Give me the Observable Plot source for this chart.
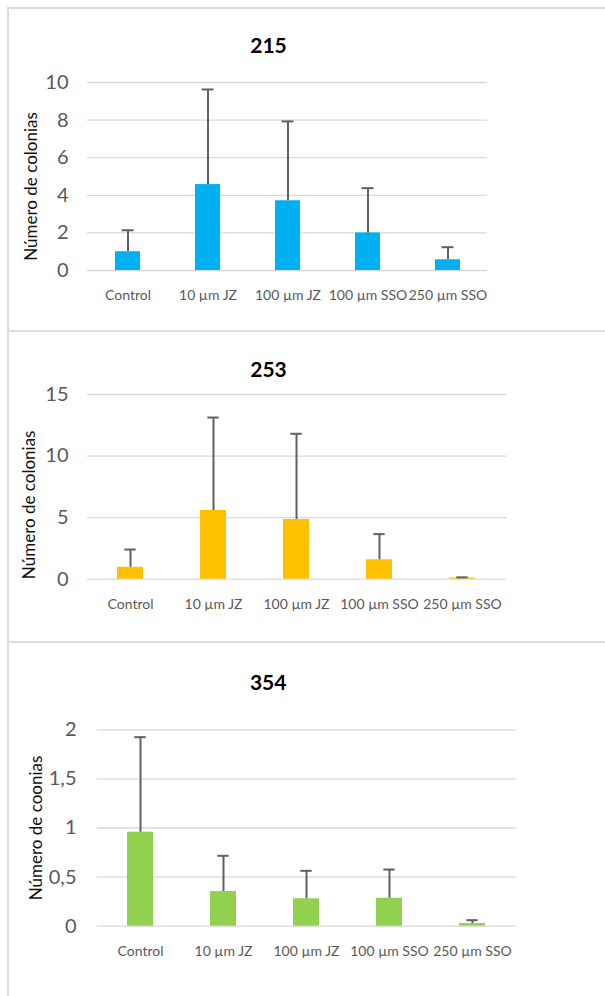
<!DOCTYPE html>
<html>
<head>
<meta charset="utf-8">
<script src="https://cdn.jsdelivr.net/npm/d3@7"></script>
<script src="https://cdn.jsdelivr.net/npm/@observablehq/plot@0.6"></script>
<style>
  html, body { margin: 0; padding: 0; background: #fff; width: 605px; height: 996px; overflow: hidden; }
  .box { position: absolute; box-sizing: border-box; border: 2px solid #dcdcdc; }
  .chart { position: absolute; left: 0; }
</style>
</head>
<body>
<div class="box" style="left:7px;top:7px;width:700px;height:325px"></div>
<div class="box" style="left:7px;top:330px;width:700px;height:313px"></div>
<div class="box" style="left:7px;top:641px;width:700px;height:400px"></div>
<div id="p1" class="chart" style="top:8px"></div>
<div id="p2" class="chart" style="top:332px"></div>
<div id="p3" class="chart" style="top:643px"></div>
<script>
// ---- data ----
const categories = ["Control", "10 µm JZ", "100 µm JZ", "100 µm SSO", "250 µm SSO"];

const titles = ["215", "253", "354"];
const yLabels = ["Número de colonias", "Número de colonias", "Número de coonias"];

const means215 = [1.0, 4.57, 3.71, 2.0, 0.57];
const sd215    = [1.14, 5.06, 4.22, 2.38, 0.67];

const means253 = [0.97, 5.58, 4.85, 1.58, 0.1];
const sd253    = [1.44, 7.55, 6.96, 2.08, 0.05];

const means354 = [0.957, 0.353, 0.279, 0.285, 0.027];
const sd354    = [0.968, 0.364, 0.285, 0.292, 0.034];

const yTicks215 = [0, 2, 4, 6, 8, 10];
const yTicks253 = [0, 5, 10, 15];
const yTicks354 = [0, 0.5, 1, 1.5, 2];

const colors = ["#00B0F0", "#FFC000", "#92D050"];

// ---- drawing ----
function panel(el, o) {
  const data = categories.map((c, i) => ({cat: c, mean: o.means[i], hi: o.means[i] + o.sds[i]}));
  const fmt = d => String(d).replace(".", ",");
  const chart = Plot.plot({
    width: 605,
    height: o.height,
    marginTop: o.mt, marginBottom: o.mb, marginLeft: o.ml, marginRight: o.mr,
    style: {background: "transparent", fontFamily: "Lato, 'Open Sans', sans-serif", overflow: "visible"},
    x: {domain: categories, paddingInner: o.pi, paddingOuter: o.pi / 2, align: 0.5},
    y: {domain: [0, o.ticks[o.ticks.length - 1]]},
    marks: [
      Plot.ruleY(o.ticks, {stroke: "#d9d9d9", strokeWidth: 1.3}),
      Plot.barY(data, {x: "cat", y: "mean", fill: o.color}),
      Plot.ruleX(data, {x: "cat", y1: "mean", y2: "hi", stroke: "#606060", strokeWidth: 2}),
      Plot.tickY(data, {x: "cat", y: "hi", stroke: "#606060", strokeWidth: 2, insetLeft: o.cap, insetRight: o.cap}),
      Plot.axisX({tickSize: 0, tickPadding: 20, fontSize: 14, fill: "#595959", label: null}),
      Plot.axisY({ticks: o.ticks, tickFormat: fmt, tickSize: 0, tickPadding: o.ytp, fontSize: 20, fill: "#595959", label: null}),
      Plot.text([o.title], {frameAnchor: "top", text: d => d, dx: o.tdx, dy: o.tdy, lineAnchor: "middle",
        fontSize: 21, fontWeight: "bold", fill: "#000"}),
      Plot.text([o.ylabel], {frameAnchor: "left", text: d => d, rotate: -90, dx: o.ldx, dy: o.ldy,
        textAnchor: "middle", lineAnchor: "middle", fontSize: 17, fill: "#111"})
    ]
  });
  document.getElementById(el).appendChild(chart);
}

panel("p1", {means: means215, sds: sd215, ticks: yTicks215, color: colors[0], title: titles[0], ylabel: yLabels[0],
  height: 322, mt: 74, mb: 60, ml: 87, mr: 118, pi: 0.6875, cap: 6.5, ytp: 19,
  tdx: -19, tdy: -36, ldx: -56, ldy: 10});
panel("p2", {means: means253, sds: sd253, ticks: yTicks253, color: colors[1], title: titles[1], ylabel: yLabels[1],
  height: 308, mt: 62, mb: 61.3, ml: 87, mr: 99, pi: 0.681, cap: 7.3, ytp: 19,
  tdx: -28.5, tdy: -24, ldx: -58, ldy: 18});
panel("p3", {means: means354, sds: sd354, ticks: yTicks354, color: colors[2], title: titles[2], ylabel: yLabels[2],
  height: 353, mt: 86.3, mb: 70.3, ml: 96.7, mr: 89.3, pi: 0.681, cap: 7.3, ytp: 20.7,
  tdx: -38.5, tdy: -46.6, ldx: -61, ldy: 0});
</script>
</body>
</html>
